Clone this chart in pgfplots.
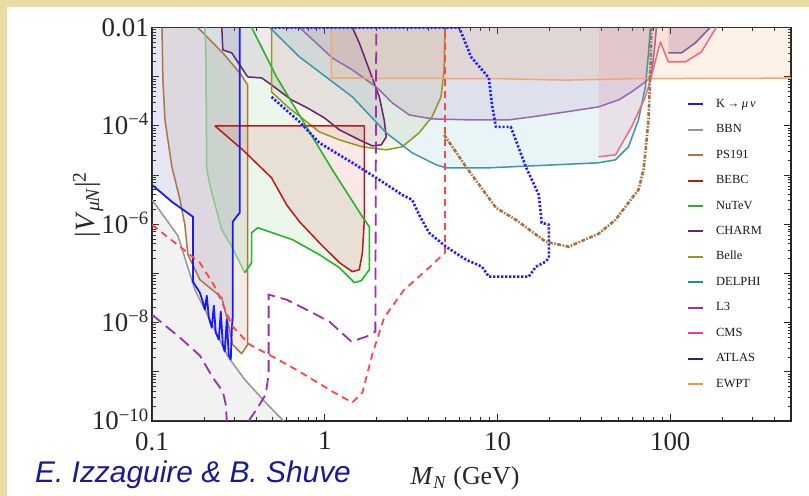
\documentclass[border=0pt]{standalone}
\usepackage{pgfplots}
\pgfplotsset{compat=1.18}
\usepackage{fontspec}
\setmainfont{Liberation Serif}
\newfontfamily\creditfont{Liberation Sans}
\definecolor{beige}{RGB}{233,221,163}
\definecolor{credit}{RGB}{25,25,150}
\definecolor{cK}{RGB}{25,25,255}
\definecolor{cKf}{RGB}{120,120,200}
\definecolor{cBBN}{RGB}{150,150,150}
\definecolor{cPS}{RGB}{170,118,72}
\definecolor{cPSf}{RGB}{160,110,70}
\definecolor{cBE}{RGB}{185,25,25}
\definecolor{cBEf}{RGB}{220,60,60}
\definecolor{cNu}{RGB}{40,180,40}
\definecolor{cNuL}{RGB}{140,200,140}
\definecolor{cNuf}{RGB}{60,180,60}
\definecolor{cCH}{RGB}{105,35,110}
\definecolor{cCHf}{RGB}{110,40,120}
\definecolor{cBel}{RGB}{150,150,30}
\definecolor{cBelf}{RGB}{150,150,40}
\definecolor{cDEL}{RGB}{30,140,160}
\definecolor{cDELl}{RGB}{60,150,170}
\definecolor{cDELf}{RGB}{40,150,170}
\definecolor{cL3}{RGB}{160,45,175}
\definecolor{cL3l}{RGB}{150,105,170}
\definecolor{cL3f}{RGB}{150,80,160}
\definecolor{cCMS}{RGB}{245,60,120}
\definecolor{cCMSl}{RGB}{240,105,125}
\definecolor{cCMSf}{RGB}{240,60,110}
\definecolor{cAT}{RGB}{40,40,120}
\definecolor{cATl}{RGB}{110,100,150}
\definecolor{cATf}{RGB}{60,40,120}
\definecolor{cEW}{RGB}{248,145,65}
\definecolor{cEWl}{RGB}{245,165,115}
\definecolor{cRD}{RGB}{255,70,70}
\definecolor{cPD}{RGB}{150,50,170}
\definecolor{cBD}{RGB}{30,30,255}
\definecolor{cBrD}{RGB}{165,115,65}
\begin{document}
\begin{tikzpicture}
\useasboundingbox (0bp,0bp) rectangle (809bp,496bp);
\fill[beige] (0bp,0bp) rectangle (809bp,496bp);
\fill[white] (7bp,0bp) rectangle (809bp,489bp);
\begin{axis}[
  at={(152bp,75bp)}, anchor=south west,
  scale only axis, width=639bp, height=393.5bp,
  xmin=-1, xmax=2.699, ymin=-10, ymax=-2,
  axis line style={line width=1.1bp, draw=black!85},
  every tick/.style={black!85, line width=0.8bp},
  tick align=inside,
  major tick length=7bp, minor tick length=3.5bp,
  xtick={-1,0,1,2}, xticklabels={0.1,1,10,100},
  ytick={-10,-9,...,-2},
  yticklabels={10\textsuperscript{−10},,10\textsuperscript{−8},,10\textsuperscript{−6},,10\textsuperscript{−4},,0.01},
  minor xtick={-0.699,-0.523,-0.398,-0.301,-0.222,-0.155,-0.097,-0.046,0.301,0.477,0.602,0.699,0.778,0.845,0.903,0.954,1.301,1.477,1.602,1.699,1.778,1.845,1.903,1.954,2.301,2.477,2.602},
  minor ytick={-9.699,-9.523,-9.398,-9.301,-9.222,-9.155,-9.097,-9.046,-8.699,-8.523,-8.398,-8.301,-8.222,-8.155,-8.097,-8.046,-7.699,-7.523,-7.398,-7.301,-7.222,-7.155,-7.097,-7.046,-6.699,-6.523,-6.398,-6.301,-6.222,-6.155,-6.097,-6.046,-5.699,-5.523,-5.398,-5.301,-5.222,-5.155,-5.097,-5.046,-4.699,-4.523,-4.398,-4.301,-4.222,-4.155,-4.097,-4.046,-3.699,-3.523,-3.398,-3.301,-3.222,-3.155,-3.097,-3.046,-2.699,-2.523,-2.398,-2.301,-2.222,-2.155,-2.097,-2.046},
  ticklabel style={font=\fontsize{27}{27}\selectfont, text=black!85},
  xticklabel style={inner sep=2bp, yshift=-9bp},
  yticklabel style={inner sep=3bp, anchor=base east, yshift=-9bp},
  xlabel={\textit{M}\textsubscript{\textit{N}} (GeV)},
  xlabel style={at={(axis description cs:0.49,-0.145)}, anchor=center, font=\fontsize{26}{26}\selectfont, text=black!85},
  ylabel={|\textit{V}\textsubscript{\textit{μN}}|\textsuperscript{2}},
  ylabel style={at={(axis description cs:-0.1,0.55)}, anchor=center, font=\fontsize{28}{28}\selectfont, text=black!85},
  legend image code/.code={\draw[#1, line width=2bp] (0bp,0bp) -- (15bp,0bp);},
  legend cell align=left,
  legend style={at={(0.8372,0.8208)}, anchor=north west, draw=none, fill=none, inner sep=0pt,
    font=\fontsize{12.5}{12.5}\selectfont, text=black!90,
    nodes={inner sep=0pt, text height=9bp, text depth=3bp},
    row sep=13.45bp, column sep=12bp},
]
% ---------- legend images
\addlegendimage{color=cK}
\addlegendentry{K\,→\,\textit{μ\,ν}}
\addlegendimage{color=cBBN}
\addlegendentry{BBN}
\addlegendimage{color=cPS}
\addlegendentry{PS191}
\addlegendimage{color=cBE}
\addlegendentry{BEBC}
\addlegendimage{color=cNu}
\addlegendentry{NuTeV}
\addlegendimage{color=cCH}
\addlegendentry{CHARM}
\addlegendimage{color=cBel}
\addlegendentry{Belle}
\addlegendimage{color=cDEL}
\addlegendentry{DELPHI}
\addlegendimage{color=cL3}
\addlegendentry{L3}
\addlegendimage{color=cCMS}
\addlegendentry{CMS}
\addlegendimage{color=cAT}
\addlegendentry{ATLAS}
\addlegendimage{color=cEW}
\addlegendentry{EWPT}

% ---------- fills
\addplot[forget plot, draw=none, fill=cBBN, fill opacity=0.12] coordinates {(-1,-5.503) (-0.925,-5.868) (-0.850,-6.234) (-0.810,-6.680) (-0.752,-7.330) (-0.665,-7.939) (-0.561,-8.690) (-0.463,-9.157) (-0.348,-9.604) (-0.238,-10) (-1,-10)};
\addplot[forget plot, draw=none, fill=cKf, fill opacity=0.18] coordinates {(-1,-2) (-1,-5.198) (-0.885,-5.543) (-0.763,-5.848) (-0.763,-7.168) (-0.723,-7.391) (-0.706,-7.574) (-0.694,-7.736) (-0.654,-8.102) (-0.613,-8.345) (-0.579,-8.589) (-0.544,-8.751) (-0.533,-7.898) (-0.533,-5.950) (-0.515,-5.868) (-0.492,-5.766) (-0.492,-2)};
\addplot[forget plot, draw=none, fill=cPSf, fill opacity=0.12] coordinates {(-0.942,-2) (-0.937,-3.066) (-0.925,-3.878) (-0.885,-4.832) (-0.838,-5.503) (-0.810,-6.010) (-0.792,-6.619) (-0.723,-7.127) (-0.596,-7.492) (-0.567,-7.898) (-0.533,-8.447) (-0.481,-8.630) (-0.446,-8.447) (-0.446,-3.168) (-0.492,-2.924) (-0.590,-2.518) (-0.735,-2)};
\addplot[forget plot, draw=none, fill=cNuf, fill opacity=0.1] coordinates {(-0.694,-2) (-0.688,-2.518) (-0.683,-4.893) (-0.654,-5.360) (-0.596,-6.112) (-0.538,-6.457) (-0.463,-6.985) (-0.423,-6.782) (-0.423,-6.173) (-0.388,-6.071) (-0.186,-6.315) (-0.031,-6.619) (0.085,-6.883) (0.171,-7.188) (0.212,-7.147) (0.258,-6.924) (0.258,-6.051) (0.218,-5.848) (0.044,-4.893) (-0.106,-4.020) (-0.279,-3.005) (-0.423,-2)};
\addplot[forget plot, draw=none, fill=cBEf, fill opacity=0.12] coordinates {(-0.636,-4.0) (0.229,-4.0) (0.229,-5.909) (0.218,-6.579) (0.200,-6.924) (0.160,-6.964) (0.085,-6.782) (-0.031,-6.376) (-0.146,-5.950) (-0.221,-5.604) (-0.308,-5.056) (-0.475,-4.487)};
\addplot[forget plot, draw=none, fill=cCHf, fill opacity=0.1] coordinates {(-0.596,-2) (-0.590,-2.457) (-0.538,-2.518) (-0.446,-3.005) (-0.365,-3.025) (-0.308,-3.168) (-0.192,-3.472) (-0.100,-3.635) (-0.002,-3.838) (0.085,-4.081) (0.200,-4.284) (0.275,-4.406) (0.327,-4.386) (0.356,-4.223) (0.344,-3.878) (0.316,-3.411) (0.258,-2.863) (0.200,-2.315) (0.160,-2)};
\addplot[forget plot, draw=none, fill=cBelf, fill opacity=0.1] coordinates {(-0.308,-2) (-0.308,-3.310) (-0.215,-3.614) (-0.031,-4.122) (0.085,-4.284) (0.218,-4.426) (0.356,-4.487) (0.448,-4.426) (0.546,-4.142) (0.621,-3.817) (0.673,-3.411) (0.691,-2.863) (0.696,-2)};
\addplot[forget plot, draw=none, fill=cDELf, fill opacity=0.1] coordinates {(-0.319,-2) (-0.146,-2.599) (-0.031,-2.904) (0.160,-3.411) (0.356,-4.142) (0.506,-4.548) (0.645,-4.792) (0.702,-4.853) (0.950,-4.853) (1.585,-4.751) (1.683,-4.690) (1.758,-4.426) (1.816,-3.878) (1.856,-3.208) (1.874,-2.518) (1.885,-2)};
\addplot[forget plot, draw=none, fill=cL3f, fill opacity=0.12] coordinates {(-0.146,-2) (0.044,-2.619) (0.160,-2.863) (0.298,-3.208) (0.391,-3.533) (0.489,-3.777) (0.621,-3.858) (0.835,-3.878) (1.066,-3.878) (1.198,-3.817) (1.395,-3.716) (1.585,-3.614) (1.701,-3.472) (1.776,-3.310) (1.856,-3.107) (1.891,-2.964) (1.908,-2.457) (1.920,-2)};
\addplot[forget plot, draw=none, fill=cCMSf, fill opacity=0.1] coordinates {(1.585,-2) (1.585,-4.629) (1.683,-4.589) (1.776,-4.020) (1.856,-3.411) (1.885,-3.066) (1.943,-2.294) (1.989,-2.701) (2.087,-2.701) (2.180,-2.497) (2.266,-2)};
\addplot[forget plot, draw=none, fill=cATf, fill opacity=0.15] coordinates {(1.989,-2) (1.989,-2.518) (2.064,-2.518) (2.145,-2.315) (2.231,-2)};
\addplot[forget plot, draw=none, fill=cEW, fill opacity=0.12] coordinates {(0.039,-2) (0.039,-3.03) (1.0,-3.04) (1.4,-3.07) (1.8,-3.04) (2.699,-3.03) (2.699,-2)};

% ---------- boundary lines
\addplot[forget plot, cBBN, line width=1.5bp, line join=round] coordinates {(-1,-5.503) (-0.925,-5.868) (-0.850,-6.234) (-0.810,-6.680) (-0.752,-7.330) (-0.665,-7.939) (-0.561,-8.690) (-0.463,-9.157) (-0.348,-9.604) (-0.238,-10)};
\addplot[forget plot, cPS, line width=1.5bp, line join=round] coordinates {(-0.942,-2) (-0.937,-3.066) (-0.925,-3.878) (-0.885,-4.832) (-0.838,-5.503) (-0.810,-6.010) (-0.792,-6.619) (-0.723,-7.127) (-0.596,-7.492) (-0.567,-7.898) (-0.533,-8.447) (-0.481,-8.630) (-0.446,-8.447) (-0.446,-3.168) (-0.492,-2.924) (-0.590,-2.518) (-0.735,-2)};
\addplot[forget plot, cNuL, line width=1.5bp, line join=round] coordinates {(-0.694,-2) (-0.688,-2.518) (-0.683,-4.893) (-0.654,-5.360) (-0.596,-6.112) (-0.538,-6.457) (-0.463,-6.985)};
\addplot[forget plot, cCH, line width=1.5bp, line join=round] coordinates {(-0.596,-2) (-0.590,-2.457) (-0.538,-2.518) (-0.446,-3.005) (-0.365,-3.025) (-0.308,-3.168) (-0.192,-3.472) (-0.100,-3.635) (-0.002,-3.838) (0.085,-4.081) (0.200,-4.284) (0.275,-4.406) (0.327,-4.386) (0.356,-4.223) (0.344,-3.878) (0.316,-3.411) (0.258,-2.863) (0.200,-2.315) (0.160,-2)};
\addplot[forget plot, cBel, line width=1.5bp, line join=round] coordinates {(-0.308,-2) (-0.308,-3.310) (-0.215,-3.614) (-0.031,-4.122) (0.085,-4.284) (0.218,-4.426) (0.356,-4.487) (0.448,-4.426) (0.546,-4.142) (0.621,-3.817) (0.673,-3.411) (0.691,-2.863) (0.696,-2)};
\addplot[forget plot, cDELl, line width=1.5bp, line join=round] coordinates {(-0.319,-2) (-0.146,-2.599) (-0.031,-2.904) (0.160,-3.411) (0.356,-4.142) (0.506,-4.548) (0.645,-4.792) (0.702,-4.853) (0.950,-4.853) (1.585,-4.751) (1.683,-4.690) (1.758,-4.426) (1.816,-3.878) (1.856,-3.208) (1.874,-2.518) (1.885,-2)};
\addplot[forget plot, cL3l, line width=1.5bp, line join=round] coordinates {(-0.146,-2) (0.044,-2.619) (0.160,-2.863) (0.298,-3.208) (0.391,-3.533) (0.489,-3.777) (0.621,-3.858) (0.835,-3.878) (1.066,-3.878) (1.198,-3.817) (1.395,-3.716) (1.585,-3.614) (1.701,-3.472) (1.776,-3.310) (1.856,-3.107) (1.891,-2.964) (1.908,-2.457) (1.920,-2)};
\addplot[forget plot, cEWl, line width=1.5bp, line join=round] coordinates {(0.039,-2) (0.039,-3.03) (1.0,-3.04) (1.4,-3.07) (1.8,-3.04) (2.699,-3.03)};
\addplot[forget plot, cCMSl, line width=1.5bp, line join=round] coordinates {(1.585,-4.629) (1.683,-4.589) (1.776,-4.020) (1.856,-3.411) (1.885,-3.066) (1.943,-2.294) (1.989,-2.701) (2.087,-2.701) (2.180,-2.497) (2.266,-2)};
\addplot[forget plot, cATl, line width=1.5bp, line join=round] coordinates {(1.989,-2.518) (2.064,-2.518) (2.145,-2.315) (2.231,-2)};
\addplot[forget plot, cBE, line width=1.5bp, line join=round] coordinates {(-0.636,-4.0) (0.229,-4.0) (0.229,-5.909) (0.218,-6.579) (0.200,-6.924) (0.160,-6.964) (0.085,-6.782) (-0.031,-6.376) (-0.146,-5.950) (-0.221,-5.604) (-0.308,-5.056) (-0.475,-4.487) (-0.636,-4.0)};
\addplot[forget plot, cNu, line width=1.6bp, line join=round] coordinates {(-0.463,-6.985) (-0.423,-6.782) (-0.423,-6.173) (-0.388,-6.071) (-0.186,-6.315) (-0.031,-6.619) (0.085,-6.883) (0.171,-7.188) (0.212,-7.147) (0.258,-6.924) (0.258,-6.051) (0.218,-5.848) (0.044,-4.893) (-0.106,-4.020) (-0.279,-3.005) (-0.423,-2)};
\addplot[forget plot, cK, line width=1.8bp, line join=round] coordinates {(-1,-5.198) (-0.885,-5.543) (-0.763,-5.848) (-0.763,-7.168) (-0.723,-7.391) (-0.706,-7.574) (-0.694,-7.736) (-0.683,-7.452) (-0.671,-7.898) (-0.654,-8.102) (-0.642,-7.655) (-0.631,-8.203) (-0.613,-8.345) (-0.602,-7.777) (-0.590,-8.447) (-0.579,-8.589) (-0.567,-7.939) (-0.556,-8.650) (-0.544,-8.751) (-0.538,-8.142) (-0.533,-7.898) (-0.533,-5.950) (-0.515,-5.868) (-0.492,-5.766) (-0.492,-2)};

% ---------- projections (dashed / dotted)
\addplot[forget plot, cRD, line width=1.8bp, dash pattern=on 7bp off 5bp] coordinates {(-1,-6.010) (-0.838,-6.457) (-0.723,-6.782) (-0.636,-7.269) (-0.533,-8.081) (-0.435,-8.447) (-0.302,-8.690) (-0.146,-8.995) (0.044,-9.401) (0.160,-9.624) (0.218,-9.421) (0.275,-8.650) (0.344,-7.898) (0.460,-7.330) (0.604,-6.883) (0.696,-6.579) (0.696,-2)};
\addplot[forget plot, cPD, line width=1.8bp, dash pattern=on 12bp off 6bp] coordinates {(-1,-7.838) (-0.838,-8.305) (-0.723,-8.670) (-0.648,-9.117) (-0.590,-9.401) (-0.573,-9.665) (-0.567,-10)};
\addplot[forget plot, cPD, line width=1.8bp, dash pattern=on 12bp off 6bp] coordinates {(-0.440,-10) (-0.388,-9.726) (-0.342,-9.462) (-0.325,-9.056) (-0.325,-7.431) (-0.221,-7.533) (-0.106,-7.736) (0.027,-7.980) (0.154,-8.386) (0.241,-8.284) (0.293,-8.183) (0.298,-2)};
\addplot[forget plot, cBD, line width=2.6bp, dash pattern=on 2.2bp off 1.8bp] coordinates {(-0.308,-3.411) (-0.146,-3.919) (-0.031,-4.345) (0.160,-4.751) (0.298,-5.056) (0.448,-5.401) (0.506,-5.503) (0.546,-5.807) (0.604,-6.173) (0.702,-6.457) (0.818,-6.721) (0.910,-6.863) (0.950,-7.066) (1.181,-7.066) (1.222,-6.863) (1.279,-6.761) (1.297,-6.680) (1.297,-6.010) (1.256,-5.970) (1.239,-5.401) (1.164,-4.832) (1.077,-4.020) (0.991,-4.020) (0.968,-3.574) (0.950,-3.025) (0.847,-2.599) (0.789,-2.091) (0.777,-2) (-0.308,-2)};
\addplot[forget plot, cBrD, line width=2.6bp, dash pattern=on 4bp off 1.5bp on 1.5bp off 1.5bp] coordinates {(0.691,-4.183) (0.818,-4.832) (0.991,-5.665) (1.106,-5.909) (1.279,-6.355) (1.412,-6.457) (1.585,-6.193) (1.683,-5.909) (1.758,-5.563) (1.816,-5.299) (1.845,-4.893) (1.856,-4.548) (1.874,-3.878) (1.885,-2.863) (1.891,-2)};
\end{axis}
\node[anchor=base west, text=credit, font=\creditfont\itshape\fontsize{30}{30}\selectfont, inner sep=0pt] at (35bp,14bp) {E. Izzaguire \& B. Shuve};
\end{tikzpicture}
\end{document}
